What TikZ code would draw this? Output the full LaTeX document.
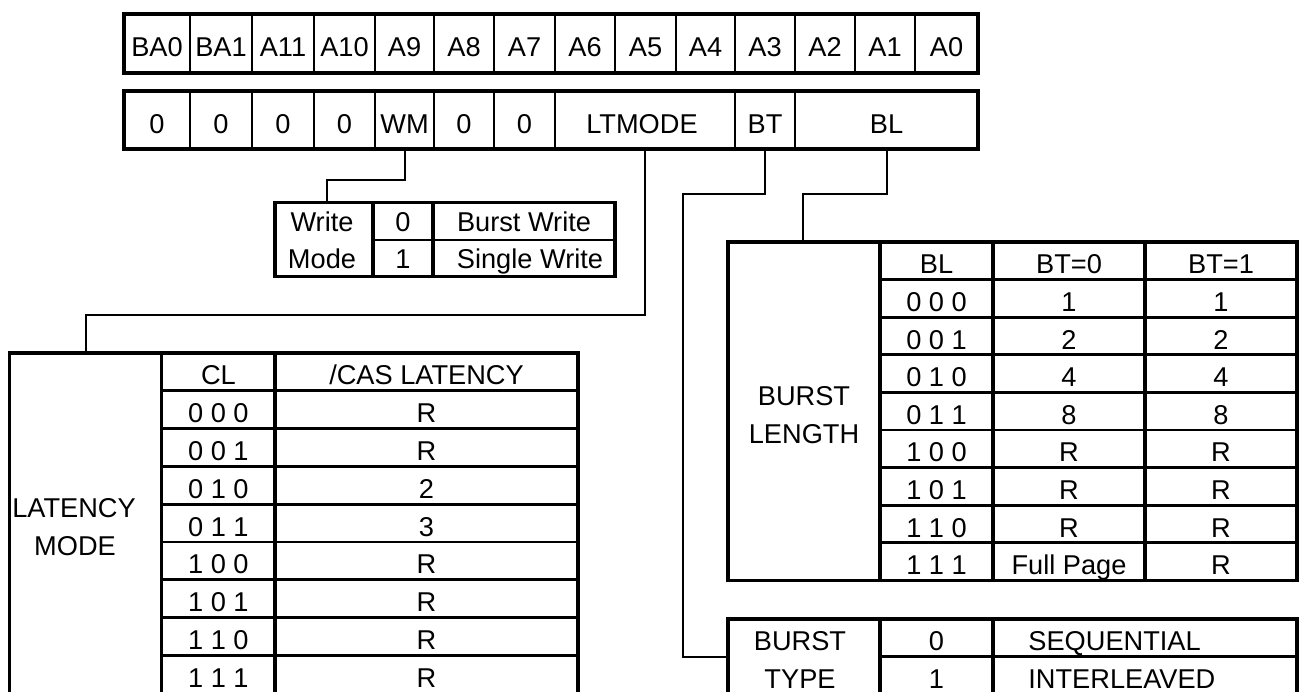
\documentclass[tikz,border=0pt]{standalone}
\usepackage{fontspec}
\setmainfont{Liberation Sans}
\usetikzlibrary{positioning}

\begin{document}
\begin{tikzpicture}[
  x=0.5pt, y=-0.5pt,
  frame/.style={line width=1.65pt},
  grid/.style={line width=1.35pt},
  link/.style={line width=1pt},
  cell/.style={font=\fontsize{13.6}{15}\selectfont,inner sep=0pt,text height=13pt,text depth=0pt},
  field/.style={cell,minimum height=29pt}
]
  \useasboundingbox (0,0) rectangle (1300,691);
  \clip (0,0) rectangle (1300,691);

  % address bits
  \foreach \l/\r/\t [count=\i] in {124/190/BA0,190/252/BA1,252/314/A11,314/375/A10,375/434/A9,434/494/A8,494/555/A7,555/615/A6,615/676/A5,676/735/A4,735/795/A3,795/855/A2,855/915/A1,915/978/A0}
    \node[cell] (addr\i) at ({(\l+\r)/2},43.5) {\t};
  \foreach \x in {190,252,314,375,434,494,555,615,676,735,795,855,915}
    \draw[grid] (\x,14) -- (\x,73);
  \draw[frame] (124,14) rectangle (978,73);

  % register fields
  \foreach \l/\r [count=\i] in {124/190,190/252,252/314,314/375}
    \node[field] (zero\i) at ({(\l+\r)/2},120) {0};
  \node[field] (wm) at (404.5,120) {WM};
  \node[field] (zero5) at (464,120) {0};
  \node[field] (zero6) at (524.5,120) {0};
  \node[field] (ltmode) at (642,120) {LTMODE};
  \node[field] (bt) at (765,120) {BT};
  \node[field] (bl) at (886.5,120) {BL};
  \foreach \x in {190,252,314,375,434,494,555,735,795}
    \draw[grid] (\x,91) -- (\x,149);
  \draw[frame] (124,91) rectangle (978,149);

  % write mode
  \coordinate (wmin) at (327,202.7);
  \node[cell] (wmname1) at (322,218) {Write};
  \node[cell] (wmname2) at (322,255) {Mode};
  \node[cell] (wm0) at (403,218) {0};
  \node[cell] (wm1) at (403,255) {1};
  \node[cell] (wmburst) at (524,218) {Burst Write};
  \node[cell] (wmsingle) at (530,255) {Single Write};
  \draw[grid] (373,240) -- (615,240);
  \draw[frame] (373,202.7) -- (373,276.7) (433,202.7) -- (433,276.7);
  \draw[frame] (275,202.7) rectangle (615,276.7);

  % latency mode
  \coordinate (latin) at (85.7,353);
  \node[cell] (latname1) at (74,504.2) {LATENCY};
  \node[cell] (latname2) at (75,542) {MODE};
  \node[cell] (clhead) at (218.4,371.9) {CL};
  \node[cell] (lathead) at (426.5,371.9) {/CAS LATENCY};
  \foreach \cl/\lat [count=\i] in {0 0 0/R,0 0 1/R,0 1 0/2,0 1 1/3,1 0 0/R,1 0 1/R,1 1 0/R,1 1 1/R} {
    \node[cell] (cl\i) at (218.4,{353+37.8*\i+18.9}) {\cl};
    \node[cell] (lat\i) at (426.5,{353+37.8*\i+18.9}) {\lat};
  }
  \foreach \k in {1,...,8}
    \draw[grid] (161.7,{353+37.8*\k}) -- (578,{353+37.8*\k});
  \draw[frame] (161.7,353) -- (161.7,700) (275,353) -- (275,700);
  \draw[frame] (9.3,353) rectangle (578,696);

  % burst length
  \coordinate (blin) at (803,242);
  \node[cell] (blname1) at (804,392.4) {BURST};
  \node[cell] (blname2) at (804,430) {LENGTH};
  \node[cell] (blhead) at (936.5,260.8) {BL};
  \node[cell] (bt0head) at (1069,260.8) {BT=0};
  \node[cell] (bt1head) at (1221,260.8) {BT=1};
  \foreach \code/\seq/\inter [count=\i] in {0 0 0/1/1,0 0 1/2/2,0 1 0/4/4,0 1 1/8/8,1 0 0/R/R,1 0 1/R/R,1 1 0/R/R,1 1 1/Full Page/R} {
    \node[cell] (blcode\i) at (936.5,{242+37.6*\i+18.8}) {\code};
    \node[cell] (blseq\i) at (1069,{242+37.6*\i+18.8}) {\seq};
    \node[cell] (blint\i) at (1221,{242+37.6*\i+18.8}) {\inter};
  }
  \foreach \k in {1,...,8}
    \draw[grid] (880,{242+37.6*\k}) -- (1297,{242+37.6*\k});
  \draw[frame] (880,242) -- (880,580.4) (993,242) -- (993,580.4) (1145,242) -- (1145,580.4);
  \draw[frame] (728,242) rectangle (1297,580.4);

  % burst type
  \coordinate (btjog) at (682.7,656.5);
  \coordinate (btin) at (728,656.5);
  \node[cell] (btname1) at (800,637.7) {BURST};
  \node[cell] (btname2) at (800,675.2) {TYPE};
  \node[cell] (bt0) at (936.5,637.7) {0};
  \node[cell] (bt1) at (936.5,675.2) {1};
  \node[cell,anchor=west] (btseq) at (1028,637.7) {SEQUENTIAL};
  \node[cell,anchor=west] (btint) at (1028,675.2) {INTERLEAVED};
  \draw[grid] (880,656.5) -- (1297,656.5);
  \draw[frame] (880,619) -- (880,700) (993,619) -- (993,700);
  \draw[frame] (728,619) rectangle (1297,697);

  \draw[link] (wm.south) -- ++(0,31) -| (wmin);
  \draw[link] (ltmode.south) ++(3,0) -- ++(0,166) -| (latin);
  \draw[link] (bt.south) -- ++(0,45) -| (btjog) -- (btin);
  \draw[link] (bl.south) -- ++(0,45) -| (blin);
\end{tikzpicture}
\end{document}
